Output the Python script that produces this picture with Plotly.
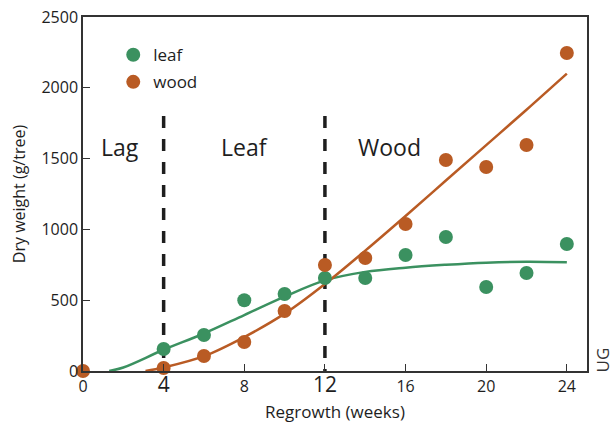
import plotly.graph_objects as go

# Observed data (weeks of regrowth, dry weight g/tree)
leaf_weeks = [4, 6, 8, 10, 12, 14, 16, 18, 20, 22, 24]
leaf_weight = [155, 254, 500, 544, 657, 657, 819, 946, 593, 692, 897]

wood_weeks = [0, 4, 6, 8, 10, 12, 14, 16, 18, 20, 22, 24]
wood_weight = [0, 21, 106, 205, 424, 749, 798, 1038, 1490, 1441, 1596, 2246]

# Fitted curves
leaf_fit_weeks = [1.3, 2, 4, 6, 8, 10, 12, 14, 16, 18, 20, 22, 24]
leaf_fit_weight = [0, 25, 150, 265, 395, 525, 640, 700, 730, 750, 765, 772, 768]

wood_fit_weeks = [3.1, 4, 6, 8, 10, 12, 14, 16, 18, 20, 22, 24]
wood_fit_weight = [0, 25, 105, 240, 405, 615, 850, 1095, 1345, 1595, 1845, 2100]

# Phase boundaries and labels
phase_bounds = [4, 12]
phase_top = 1800
phase_names = ["Lag", "Leaf", "Wood"]
phase_label_x = [1.85, 8.0, 15.2]
phase_label_y = 1585

x_ticks = [0, 4, 8, 12, 16, 20, 24]
y_ticks = [0, 500, 1000, 1500, 2000, 2500]

GREEN = "#3b9160"
ORANGE = "#b95b24"
FONT = "Open Sans"

fig = go.Figure()

for xb in phase_bounds:
    fig.add_trace(go.Scatter(x=[xb, xb], y=[phase_top, 0], mode="lines",
                             line=dict(color="#1e1e1e", width=3.5, dash="12px,11px"),
                             showlegend=False, hoverinfo="skip"))

fig.add_trace(go.Scatter(x=leaf_fit_weeks, y=leaf_fit_weight, mode="lines",
                         line=dict(color=GREEN, width=2.5, shape="spline"),
                         showlegend=False))
fig.add_trace(go.Scatter(x=wood_fit_weeks, y=wood_fit_weight, mode="lines",
                         line=dict(color=ORANGE, width=2.5, shape="spline"),
                         showlegend=False))

fig.add_trace(go.Scatter(x=leaf_weeks, y=leaf_weight, mode="markers", name="leaf",
                         legendgroup="leaf",
                         marker=dict(color=GREEN, size=14), cliponaxis=False))
fig.add_trace(go.Scatter(x=wood_weeks, y=wood_weight, mode="markers", name="wood",
                         legendgroup="wood",
                         marker=dict(color=ORANGE, size=14), cliponaxis=False))

for name, lx in zip(phase_names, phase_label_x):
    fig.add_annotation(x=lx, y=phase_label_y, text=name, showarrow=False,
                       font=dict(family=FONT, size=23, color="#1e1e1e"))

fig.add_annotation(xref="paper", yref="paper", x=1.0, y=0.03, xshift=15,
                   xanchor="center", yanchor="middle",
                   text="UG", textangle=-90, showarrow=False,
                   font=dict(family=FONT, size=17, color="#333"))

tick_text = []
for v in x_ticks:
    if v in phase_bounds:
        tick_text.append(f"<span style='font-size:21px'>{v}</span>")
    else:
        tick_text.append(str(v))

fig.update_layout(
    width=610, height=423,
    margin=dict(l=83, r=23, t=17, b=52, autoexpand=False),
    paper_bgcolor="white", plot_bgcolor="white",
    font=dict(family=FONT, color="#1e1e1e", size=16),
    showlegend=True,
    legend=dict(x=0.06, y=0.943, xanchor="left", yanchor="top",
                traceorder="grouped", tracegroupgap=2,
                font=dict(family=FONT, size=17, color="#1e1e1e"),
                bgcolor="rgba(0,0,0,0)", itemwidth=30),
    xaxis=dict(range=[0, 25], tickvals=x_ticks, ticktext=tick_text, automargin=False,
               ticks="inside", ticklen=7, tickcolor="#333", showgrid=False,
               zeroline=False, showline=True, linecolor="#333", linewidth=1.5,
               mirror=True, tickfont=dict(size=16), ticklabeloverflow="allow",
               title=dict(text="Regrowth (weeks)", font=dict(size=17), standoff=10)),
    yaxis=dict(range=[0, 2500], tickvals=y_ticks, automargin=False,
               ticks="inside", ticklen=7, tickcolor="#333", showgrid=False,
               zeroline=False, showline=True, linecolor="#333", linewidth=1.5,
               mirror=True, tickfont=dict(size=16), ticklabeloverflow="allow",
               title=dict(text="Dry weight (g/tree)", font=dict(size=16), standoff=12)),
)

# Remove the default page margin so the figure fills the window exactly
fig.write_html("out.html", config={"displayModeBar": False},
               post_script="document.body.style.margin='0';")
